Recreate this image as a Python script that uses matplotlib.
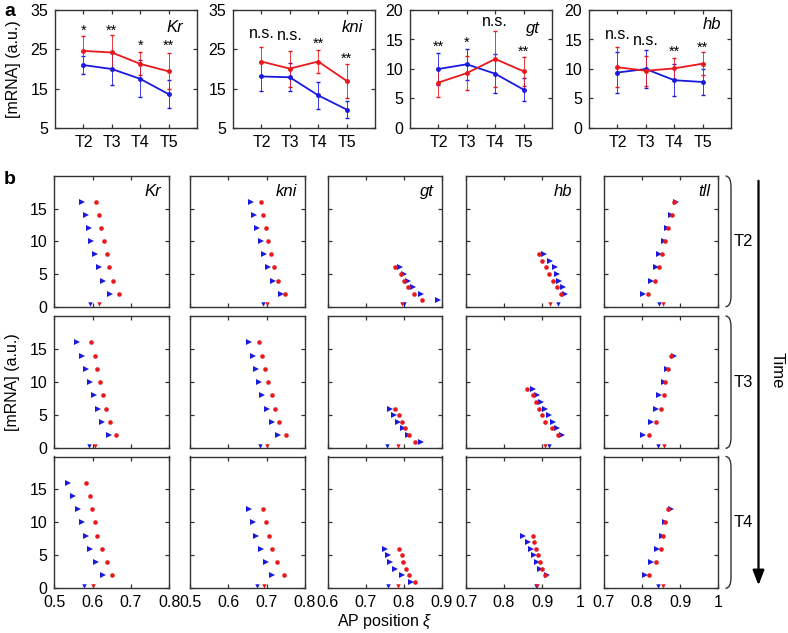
import numpy as np
import matplotlib
matplotlib.use("Agg")
import matplotlib.pyplot as plt
from matplotlib.path import Path
from matplotlib.patches import PathPatch

plt.rcParams['font.family'] = ['Liberation Sans', 'DejaVu Sans']
plt.rcParams['mathtext.fontset'] = 'custom'
plt.rcParams['mathtext.it'] = 'Liberation Sans:italic'

RED = '#e8191c'
BLUE = '#1a1adf'
SPINE = '#333333'

# ---- panel a: mean expression over time ----
times = ['T2', 'T3', 'T4', 'T5']
genes_a = ['Kr', 'kni', 'gt', 'hb']

kr_red = [24.6, 24.2, 21.3, 19.4]
kr_red_err = [3.9, 4.4, 2.9, 4.6]
kr_blue = [21.0, 20.0, 17.5, 13.6]
kr_blue_err = [2.2, 4.0, 4.7, 3.5]

kni_red = [21.9, 20.1, 21.9, 17.0]
kni_red_err = [3.6, 4.6, 2.9, 4.3]
kni_blue = [18.1, 17.9, 13.3, 9.7]
kni_blue_err = [3.7, 3.5, 3.4, 2.1]

gt_red = [7.7, 9.3, 11.7, 9.6]
gt_red_err = [2.4, 2.9, 4.8, 2.5]
gt_blue = [10.0, 10.8, 9.2, 6.5]
gt_blue_err = [2.7, 2.6, 3.3, 2.0]

hb_red = [10.3, 9.7, 10.1, 10.9]
hb_red_err = [3.4, 2.5, 1.8, 1.9]
hb_blue = [9.4, 10.0, 8.1, 7.8]
hb_blue_err = [3.4, 3.3, 2.7, 2.2]

kr_sig = ['*', '**', '*', '**']
kr_sig_y = [29.6, 29.6, 25.9, 25.8]
kni_sig = ['n.s.', 'n.s.', '**', '**']
kni_sig_y = [29.0, 28.6, 26.4, 22.6]
gt_sig = ['**', '*', 'n.s.', '**']
gt_sig_y = [13.8, 14.4, 18.1, 12.9]
hb_sig = ['n.s.', 'n.s.', '**', '**']
hb_sig_y = [15.8, 14.8, 12.9, 13.6]

# ---- panel b: boundary positions per threshold ----
b_genes = ['Kr', 'kni', 'gt', 'hb', 'tll']
b_times = ['T2', 'T3', 'T4']

kr_lev = {'T2': [16, 14, 12, 10, 8, 6, 4, 2], 'T3': [16, 14, 12, 10, 8, 6, 4, 2], 'T4': [16, 14, 12, 10, 8, 6, 4, 2]}
kr_xr = {'T2': [0.609, 0.616, 0.622, 0.629, 0.637, 0.643, 0.653, 0.670],
         'T3': [0.597, 0.605, 0.611, 0.618, 0.626, 0.635, 0.645, 0.660],
         'T4': [0.582, 0.592, 0.599, 0.606, 0.612, 0.625, 0.637, 0.650]}
kr_xb = {'T2': [0.572, 0.582, 0.590, 0.597, 0.606, 0.616, 0.628, 0.646],
         'T3': [0.560, 0.572, 0.583, 0.594, 0.603, 0.613, 0.625, 0.642],
         'T4': [0.537, 0.550, 0.562, 0.573, 0.583, 0.594, 0.608, 0.626]}
kr_x0 = {'T2': (0.617, 0.593), 'T3': (0.607, 0.590), 'T4': (0.600, 0.577)}

kni_lev = {'T2': [16, 14, 12, 10, 8, 6, 4, 2], 'T3': [16, 14, 12, 10, 8, 6, 4, 2], 'T4': [12, 10, 8, 6, 4, 2]}
kni_xr = {'T2': [0.685, 0.691, 0.697, 0.703, 0.711, 0.720, 0.729, 0.748],
          'T3': [0.679, 0.687, 0.695, 0.704, 0.714, 0.723, 0.733, 0.750],
          'T4': [0.690, 0.697, 0.705, 0.715, 0.728, 0.745]}
kni_xb = {'T2': [0.658, 0.667, 0.676, 0.684, 0.693, 0.703, 0.717, 0.737],
          'T3': [0.655, 0.664, 0.672, 0.681, 0.689, 0.700, 0.713, 0.729],
          'T4': [0.654, 0.664, 0.673, 0.684, 0.697, 0.715]}
kni_x0 = {'T2': (0.700, 0.691), 'T3': (0.702, 0.683), 'T4': (0.693, 0.675)}

gt_lev = {'T2': [6, 5, 4, 3, 2, 1], 'T3': [6, 5, 4, 3, 2, 1], 'T4': [6, 5, 4, 3, 2, 1]}
gt_xr = {'T2': [0.776, 0.792, 0.800, 0.810, 0.827, 0.848],
         'T3': [0.777, 0.787, 0.796, 0.804, 0.814, 0.830],
         'T4': [0.787, 0.795, 0.799, 0.805, 0.813, 0.829]}
gt_xb = {'T2': [0.790, 0.801, 0.810, 0.825, 0.846, 0.891],
         'T3': [0.765, 0.774, 0.786, 0.797, 0.811, 0.845],
         'T4': [0.750, 0.758, 0.765, 0.777, 0.795, 0.818]}
gt_x0 = {'T2': (0.796, 0.800), 'T3': (0.785, 0.757), 'T4': (0.785, 0.758)}

hb_lev = {'T2': [8, 7, 6, 5, 4, 3, 2], 'T3': [9, 8, 7, 6, 5, 4, 3, 2], 'T4': [8, 7, 6, 5, 4, 3, 2]}
hb_xr = {'T2': [0.892, 0.901, 0.910, 0.918, 0.928, 0.939, 0.951],
         'T3': [0.861, 0.875, 0.885, 0.893, 0.901, 0.909, 0.926, 0.941],
         'T4': [0.875, 0.879, 0.883, 0.889, 0.894, 0.900, 0.907]}
hb_xb = {'T2': [0.905, 0.920, 0.933, 0.939, 0.946, 0.954, 0.961],
         'T3': [0.876, 0.888, 0.898, 0.908, 0.918, 0.928, 0.940, 0.953],
         'T4': [0.851, 0.862, 0.872, 0.880, 0.887, 0.895, 0.912]}
hb_x0 = {'T2': (0.920, 0.942), 'T3': (0.909, 0.918), 'T4': (0.886, 0.884)}

tll_lev = {'T2': [16, 14, 12, 10, 8, 6, 4, 2], 'T3': [14, 12, 10, 8, 6, 4, 2], 'T4': [12, 10, 8, 6, 4, 2]}
tll_xr = {'T2': [0.883, 0.879, 0.869, 0.861, 0.854, 0.844, 0.834, 0.816],
          'T3': [0.876, 0.869, 0.862, 0.857, 0.850, 0.837, 0.820],
          'T4': [0.868, 0.860, 0.855, 0.850, 0.837, 0.818]}
tll_xb = {'T2': [0.889, 0.877, 0.867, 0.858, 0.846, 0.836, 0.824, 0.804],
          'T3': [0.885, 0.867, 0.858, 0.846, 0.837, 0.824, 0.804],
          'T4': [0.876, 0.862, 0.853, 0.839, 0.825, 0.809]}
tll_x0 = {'T2': (0.855, 0.844), 'T3': (0.859, 0.843), 'T4': (0.855, 0.842)}

b_xlims = [(0.5, 0.8), (0.5, 0.8), (0.6, 0.9), (0.7, 1.0), (0.7, 1.0)]
b_xticks = [[0.5, 0.6, 0.7, 0.8], [0.5, 0.6, 0.7, 0.8], [0.6, 0.7, 0.8, 0.9],
            [0.7, 0.8, 0.9, 1.0], [0.7, 0.8, 0.9, 1.0]]
b_xticklabels = [['0.5', '0.6', '0.7', '0.8'], ['0.5', '0.6', '0.7', '0.8'],
                 ['0.6', '0.7', '0.8', '0.9'], ['0.7', '0.8', '0.9', '1'], ['0.7', '0.8', '0.9', '1']]

W, H = 788, 633
fig = plt.figure(figsize=(W / 100, H / 100), dpi=100)


def add_ax(x0, y0, x1, y1):
    # pixel box (top-left origin) -> figure fraction
    return fig.add_axes([x0 / W, 1 - y1 / H, (x1 - x0) / W, (y1 - y0) / H])


def style(ax):
    for s in ax.spines.values():
        s.set_color(SPINE)
        s.set_linewidth(1.0)
    ax.tick_params(direction='in', length=3, width=0.9, color=SPINE,
                   top=True, right=True, labelsize=11.5)
    ax.tick_params(axis='x', pad=5)
    ax.tick_params(axis='y', pad=5)


# ---- panel a ----
a_boxes = [(55, 10, 197, 128), (233, 10, 375, 128), (410, 10, 552, 128), (589, 10, 731, 128)]
a_red = [kr_red, kni_red, gt_red, hb_red]
a_red_err = [kr_red_err, kni_red_err, gt_red_err, hb_red_err]
a_blue = [kr_blue, kni_blue, gt_blue, hb_blue]
a_blue_err = [kr_blue_err, kni_blue_err, gt_blue_err, hb_blue_err]
a_sig = [kr_sig, kni_sig, gt_sig, hb_sig]
a_sig_y = [kr_sig_y, kni_sig_y, gt_sig_y, hb_sig_y]
a_ylims = [(5, 35), (5, 35), (0, 20), (0, 20)]
a_yticks = [[5, 15, 25, 35], [5, 15, 25, 35], [0, 5, 10, 15, 20], [0, 5, 10, 15, 20]]
a_label_pos = [(0.90, 0.85), (0.915, 0.85), (0.915, 0.84), (0.934, 0.88)]

xpos = np.arange(2, 6)
for i, box in enumerate(a_boxes):
    ax = add_ax(*box)
    style(ax)
    ax.errorbar(xpos, a_blue[i], yerr=a_blue_err[i], color=BLUE, lw=1.3, marker='o', ms=2.5,
                elinewidth=0.6, capsize=1.2, ecolor=BLUE)
    ax.errorbar(xpos, a_red[i], yerr=a_red_err[i], color=RED, lw=1.3, marker='o', ms=2.5,
                elinewidth=0.6, capsize=1.2, ecolor=RED)
    for xp, s, yy in zip(xpos, a_sig[i], a_sig_y[i]):
        ax.text(xp, yy, s, ha='center', va='center', fontsize=10.5 if s != 'n.s.' else 11.5)
    ax.set_xlim(1, 6)
    ax.set_ylim(*a_ylims[i])
    ax.set_yticks(a_yticks[i])
    ax.set_xticks(xpos)
    ax.set_xticklabels(times)
    lx, ly = a_label_pos[i]
    ax.text(lx, ly, genes_a[i], transform=ax.transAxes, ha='right', va='center',
            fontsize=12, style='italic')
    if i == 0:
        ax.set_ylabel('[mRNA] (a.u.)', fontsize=11.5, labelpad=7)

# ---- panel b ----
b_cols = [(54.3, 169.3), (190, 305), (327.7, 441.7), (466, 580), (603.5, 718.3)]
b_rows = [(176, 306.7), (316, 448.3), (456.5, 588.3)]
b_lev = [kr_lev, kni_lev, gt_lev, hb_lev, tll_lev]
b_xr = [kr_xr, kni_xr, gt_xr, hb_xr, tll_xr]
b_xb = [kr_xb, kni_xb, gt_xb, hb_xb, tll_xb]
b_x0 = [kr_x0, kni_x0, gt_x0, hb_x0, tll_x0]

for r, (yt, yb) in enumerate(b_rows):
    t = b_times[r]
    for c, (xl, xr) in enumerate(b_cols):
        ax = add_ax(xl, yt, xr, yb)
        style(ax)
        ax.plot(b_xb[c][t], b_lev[c][t], ls='none', marker='>', ms=3.8, color=BLUE, mew=0)
        ax.plot(b_xr[c][t], b_lev[c][t], ls='none', marker='o', ms=3.3, color=RED, mew=0)
        red0, blue0 = b_x0[c][t]
        ax.plot([blue0], [0.35], ls='none', marker='v', ms=3.2, color=BLUE, mew=0, clip_on=False)
        ax.plot([red0], [0.35], ls='none', marker='v', ms=3.2, color=RED, mew=0, clip_on=False)
        ax.set_xlim(*b_xlims[c])
        ax.set_ylim(0, 20)
        ax.set_yticks([0, 5, 10, 15])
        ax.set_xticks(b_xticks[c])
        if r == 2:
            ax.set_xticklabels(b_xticklabels[c])
        else:
            ax.set_xticklabels([])
        if c != 0:
            ax.set_yticklabels([])
        if r == 0:
            ax.text(0.93, 0.88, b_genes[c], transform=ax.transAxes, ha='right', va='center',
                    fontsize=12, style='italic')
        if r == 1 and c == 0:
            ax.set_ylabel('[mRNA] (a.u.)', fontsize=11.5, labelpad=7)

# overlay for annotations in pixel space
ov = fig.add_axes([0, 0, 1, 1])
ov.set_xlim(0, W)
ov.set_ylim(H, 0)
ov.axis('off')

ov.text(4, 12, 'a', fontsize=14, fontweight='bold', va='center')
ov.text(4, 179, 'b', fontsize=14, fontweight='bold', va='center')
ov.text(385, 622, r'AP position $\xi$', fontsize=11.5, ha='center', va='center')

for (yt, yb), t in zip(b_rows, b_times):
    x0, x1 = 725.5, 731
    verts = [(x0, yt), (x1, yt), (x1, yt + 11), (x1, yb - 11), (x1, yb), (x0, yb)]
    codes = [Path.MOVETO, Path.CURVE3, Path.CURVE3, Path.LINETO, Path.CURVE3, Path.CURVE3]
    ov.add_patch(PathPatch(Path(verts, codes), fill=False, lw=1.0, color=SPINE))
    ov.text(743.5, (yt + yb) / 2, t, fontsize=12, ha='center', va='center')

ov.annotate('', xy=(758.5, 588), xytext=(758.5, 178),
            arrowprops=dict(arrowstyle='-|>,head_length=0.9,head_width=0.35', lw=1.6, color='black'))
ov.text(777, 370, 'Time', fontsize=12, rotation=-90, ha='center', va='center')

fig.savefig('out.png', dpi=100)
